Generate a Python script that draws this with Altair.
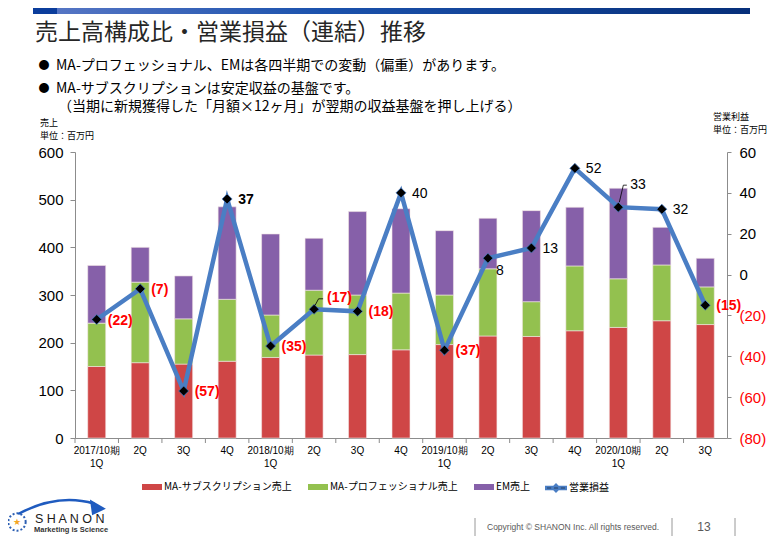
import altair as alt
import pandas as pd

# ---------------- data ----------------
TITLE = "売上高構成比・営業損益（連結）推移"
BULLET1 = "MA-プロフェッショナル、EMは各四半期での変動（偏重）があります。"
BULLET2 = "MA-サブスクリプションは安定収益の基盤です。"
BULLET3 = "（当期に新規獲得した「月額×12ヶ月」が翌期の収益基盤を押し上げる）"
LEFT_UNIT = ["売上", "単位：百万円"]
RIGHT_UNIT = ["営業利益", "単位：百万円"]
COPYRIGHT = "Copyright © SHANON Inc. All rights reserved."
PAGE_NO = "13"
LOGO = "S H A N O N"
TAGLINE = "Marketing is Science"

quarters = [
    "2017/10期 1Q", "2017/10期 2Q", "2017/10期 3Q", "2017/10期 4Q",
    "2018/10期 1Q", "2018/10期 2Q", "2018/10期 3Q", "2018/10期 4Q",
    "2019/10期 1Q", "2019/10期 2Q", "2019/10期 3Q", "2019/10期 4Q",
    "2020/10期 1Q", "2020/10期 2Q", "2020/10期 3Q",
]
series = ["MA-サブスクリプション売上", "MA-プロフェッショナル売上", "EM売上"]
line_name = "営業損益"

ma_sub = [150, 158, 155, 161, 169, 174, 175, 185, 196, 214, 213, 225, 232, 246, 238]
ma_pro = [91, 169, 95, 130, 89, 136, 125, 119, 104, 141, 73, 136, 102, 117, 79]
em = [121, 73, 90, 194, 170, 109, 175, 177, 135, 106, 191, 123, 190, 79, 60]
op_income = [-22, -7, -57, 37, -35, -17, -18, 40, -37, 8, 13, 52, 33, 32, -15]

left_ticks = [0, 100, 200, 300, 400, 500, 600]
right_ticks = [-80, -60, -40, -20, 0, 20, 40, 60]

# ---------------- styles ----------------
RED, GREEN, PURPLE, BLUE = "#cf4646", "#93c14f", "#8660a9", "#4a7ec4"
JP = "Noto Sans CJK JP"
EN = "Liberation Sans"
AXIS_GRAY = "#8c8c8c"
W, H = 652, 286

bar_rows = []
for i, q in enumerate(quarters):
    for k, (s, vals) in enumerate(zip(series, [ma_sub, ma_pro, em])):
        bar_rows.append({"q": q, "series": s, "k": k, "v": vals[i]})
bar_df = pd.DataFrame(bar_rows)
line_df = pd.DataFrame({"q": quarters, "op": op_income, "name": [line_name] * len(quarters)})

x_axis = alt.Axis(
    title=None, labelAngle=0, ticks=False, labelOverlap=False,
    labelExpr="split(datum.label, ' ')[1] == '1Q' ? split(datum.label, ' ') : split(datum.label, ' ')[1]",
    domainColor=AXIS_GRAY, labelFont=EN, labelFontSize=10, labelColor="black",
    labelPadding=7, labelLineHeight=13,
)
x_scale = alt.Scale(paddingInner=0, paddingOuter=0)


def X(**kw):
    return alt.X("q:N", sort=quarters, scale=x_scale, axis=x_axis, **kw)


y_left = alt.Y(
    "v:Q", stack="zero",
    scale=alt.Scale(domain=[0, 600], nice=False),
    axis=alt.Axis(orient="left", values=left_ticks, title=None, grid=False,
                  domainColor=AXIS_GRAY, tickColor=AXIS_GRAY, tickSize=5,
                  labelFont=EN, labelFontSize=15, labelColor="black", labelPadding=7),
)

y_right = alt.Y(
    "op:Q",
    scale=alt.Scale(domain=[-80, 60], nice=False),
    axis=alt.Axis(orient="right", values=right_ticks, title=None, grid=False,
                  domainColor=AXIS_GRAY, tickColor=AXIS_GRAY, tickSize=4,
                  labelFont=EN, labelFontSize=15, labelPadding=8,
                  labelExpr="datum.value < 0 ? '(' + abs(datum.value) + ')' : datum.label",
                  labelColor={"condition": {"test": "datum.value < 0", "value": "#ff0000"},
                              "value": "#000000"}),
)

bars = alt.Chart(bar_df).mark_bar(size=18, stroke="#f4e6e6", strokeWidth=0.6).encode(
    x=X(),
    y=y_left,
    color=alt.Color(
        "series:N",
        scale=alt.Scale(domain=series, range=[RED, GREEN, PURPLE]),
        legend=alt.Legend(
            orient="none", legendX=67, legendY=325, direction="horizontal",
            title=None, symbolType="M-1,-0.3H1V0.3H-1Z", symbolSize=400,
            symbolStrokeWidth=0, labelFont=JP, labelFontSize=10, labelColor="black",
            labelOffset=2, columnPadding=16, padding=0,
        ),
    ),
    order=alt.Order("k:Q", sort="ascending"),
)

xticks = alt.Chart(line_df).mark_rule(color=AXIS_GRAY).encode(
    x=X(bandPosition=0), y=alt.value(H), y2=alt.value(H + 5)
)

line = alt.Chart(line_df).mark_line(strokeWidth=4.5).encode(
    x=X(),
    y=y_right,
    stroke=alt.Stroke(
        "name:N",
        scale=alt.Scale(domain=[line_name], range=[BLUE]),
        legend=alt.Legend(
            orient="none", legendX=470, legendY=325, title=None,
            symbolType="M-1,-0.12H1V0.12H-1Z M-0.35,0L0,-0.35L0.35,0L0,0.35Z",
            symbolSize=400, symbolStrokeWidth=2, symbolFillColor="black",
            labelFont=JP, labelFontSize=10, labelColor="black", labelOffset=2, padding=0,
        ),
    ),
)

points = alt.Chart(line_df).mark_point(
    shape="diamond", filled=True, size=100, fill="black", stroke=BLUE,
    strokeWidth=0.8, opacity=1,
).encode(x=X(), y=y_right)

LBL = "datum.op < 0 ? '(' + abs(datum.op) + ')' : '' + datum.op"


def labels(test, bold, dx, dy):
    return alt.Chart(line_df).transform_filter(test).transform_calculate(lbl=LBL).mark_text(
        align="left", baseline="middle", dx=dx, dy=dy, font=EN, fontSize=14,
        fontWeight="bold" if bold else "normal",
    ).encode(
        x=X(), y=y_right, text="lbl:N",
        color=alt.condition("datum.op < 0", alt.value("#ff0000"), alt.value("#000000")),
    )


lab_bold = labels("(datum.op < 0 || datum.q == '2017/10期 4Q') && datum.q != '2018/10期 2Q'", True, 11, 1)
lab_17 = labels("datum.q == '2018/10期 2Q'", True, 13, -11)
lab_norm = labels("datum.op >= 0 && datum.q != '2017/10期 4Q' && datum.q != '2019/10期 2Q' && datum.q != '2020/10期 1Q'", False, 11, 1)
lab_8 = labels("datum.q == '2019/10期 2Q'", False, 8, 13)
lab_33 = labels("datum.q == '2020/10期 1Q'", False, 12, -22)


def leader(test, path):
    return alt.Chart(line_df).transform_filter(test).mark_point(
        shape=path, size=400, filled=False, color="black", strokeWidth=0.8, opacity=1
    ).encode(x=X(), y=y_right)


lead_17 = leader("datum.q == '2018/10期 2Q'", "M0.1,-0.4L0.45,-1.05H0.9")
lead_33 = leader("datum.q == '2020/10期 1Q'", "M0.1,-0.5L0.5,-2.2H0.85")

inner = alt.layer(line, points, lab_bold, lab_17, lab_norm, lab_8, lab_33, lead_17, lead_33)


# ---------------- decorations ----------------
def text(t, x, y, size, font=JP, color="#222222", weight="normal", align="left"):
    return alt.Chart(pd.DataFrame({"t": [t]})).mark_text(
        align=align, baseline="middle", font=font, fontSize=size, fontWeight=weight, color=color
    ).encode(x=alt.value(x), y=alt.value(y), text="t:N")


one = pd.DataFrame({"a": [0]})
header = alt.Chart(one).mark_rect(
    fill=alt.Gradient(
        gradient="linear", x1=0, x2=1, y1=0, y2=0,
        stops=[
            alt.GradientStop(color="#0b3d9c", offset=0),
            alt.GradientStop(color="#0b3d9c", offset=0.033),
            alt.GradientStop(color="#5575c4", offset=0.034),
            alt.GradientStop(color="#1b52ad", offset=0.4),
            alt.GradientStop(color="#062f7a", offset=1),
        ],
    )
).encode(x=alt.value(-42), x2=alt.value(675), y=alt.value(-144), y2=alt.value(-138))

seps = [
    alt.Chart(one).mark_rule(color="#7f7f7f", strokeWidth=0.8).encode(
        x=alt.value(px), y=alt.value(366), y2=alt.value(384))
    for px in (400, 597, 660)
]

ring = alt.Chart(one).mark_point(
    shape="circle", size=300, filled=False, color="#2c5fb3", strokeWidth=2,
    strokeDash=[2, 2], opacity=1,
).encode(x=alt.value(-58), y=alt.value(370))
swoosh = alt.Chart(one).mark_point(
    shape="M-1.02,0.14Q-0.1,-0.35 0.75,-0.1", size=7396, filled=False,
    color="#1f5bbf", strokeWidth=2.5, opacity=1,
).encode(x=alt.value(-13), y=alt.value(356))
arrowhead = alt.Chart(one).mark_point(
    shape="M0.65,-0.2L1.02,0.02L0.7,0.17Z", size=7396, filled=True,
    color="#1f5bbf", opacity=1,
).encode(x=alt.value(-13), y=alt.value(356))

decor = [
    header,
    text(TITLE, -40, -119, 23, color="#262626"),
    text("●", -31, -86, 11, color="black", align="center"),
    text(BULLET1, -19, -86, 14, color="black"),
    text("●", -31, -63, 11, color="black", align="center"),
    text(BULLET2, -19, -63, 14, color="black"),
    text(BULLET3, -17, -45, 14, color="black"),
    text(LEFT_UNIT[0], -35, -29, 9, color="black"),
    text(LEFT_UNIT[1], -35, -16, 9, color="black"),
    text(RIGHT_UNIT[0], 638, -35, 9, color="black"),
    text(RIGHT_UNIT[1], 638, -22, 9, color="black"),
    text(COPYRIGHT, 412, 375, 8.5, font=EN, color="#595959"),
    text(PAGE_NO, 629, 375, 12, font=EN, color="#595959", align="center"),
    text(LOGO, -40, 367, 12.5, font=EN, color="#1a1a1a"),
    text(TAGLINE, -41, 378, 7.5, font=EN, color="#333333", weight="bold"),
    text("★", -58, 370, 9, font="DejaVu Sans", color="#f5a623", align="center"),
    ring, swoosh, arrowhead,
] + seps

chart = alt.layer(*decor, xticks, bars, inner).resolve_scale(
    y="independent"
).properties(
    width=W, height=H,
    padding={"left": 67, "top": 144, "right": 47, "bottom": 98},
    autosize=alt.AutoSizeParams(type="none"),
).configure_view(stroke=None)

chart.save("out.html", embed_options={"renderer": "svg", "actions": False})
